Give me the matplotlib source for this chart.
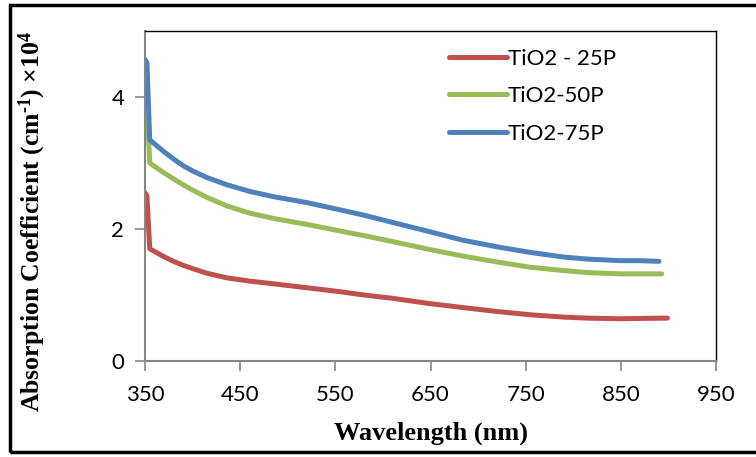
import matplotlib
matplotlib.use("Agg")
import matplotlib.pyplot as plt
from matplotlib.patches import Rectangle

wl_25 = [350, 352, 355, 360, 370, 380, 390, 400, 415, 436, 460, 485, 520, 555, 580, 610, 649, 684, 720, 755, 790, 814, 850, 870, 899]
ac_25 = [2.55, 2.50, 1.70, 1.66, 1.58, 1.51, 1.45, 1.40, 1.33, 1.26, 1.21, 1.17, 1.11, 1.05, 1.00, 0.95, 0.87, 0.81, 0.75, 0.70, 0.665, 0.65, 0.64, 0.645, 0.65]

wl_50 = [350, 352, 355, 360, 370, 380, 390, 400, 415, 436, 460, 485, 520, 555, 580, 610, 649, 684, 720, 755, 790, 814, 850, 870, 893]
ac_50 = [4.19, 3.90, 3.00, 2.95, 2.85, 2.76, 2.67, 2.59, 2.48, 2.35, 2.24, 2.16, 2.07, 1.97, 1.90, 1.81, 1.69, 1.59, 1.50, 1.42, 1.37, 1.34, 1.32, 1.32, 1.32]

wl_75 = [350, 352, 355, 360, 370, 380, 390, 400, 415, 436, 460, 485, 520, 555, 580, 610, 649, 684, 720, 755, 790, 814, 850, 870, 890]
ac_75 = [4.57, 4.52, 3.35, 3.29, 3.17, 3.06, 2.96, 2.88, 2.78, 2.67, 2.57, 2.49, 2.40, 2.29, 2.21, 2.10, 1.96, 1.83, 1.73, 1.645, 1.575, 1.545, 1.52, 1.52, 1.51]

labels = ["TiO2 - 25P", "TiO2-50P", "TiO2-75P"]
colors = ["#C0504D", "#9BBB59", "#4F81BD"]
x_ticks = [350, 450, 550, 650, 750, 850, 950]
y_ticks = [0, 2, 4]

plt.rcParams["mathtext.fontset"] = "custom"
plt.rcParams["mathtext.rm"] = "Liberation Serif:bold"
plt.rcParams["mathtext.bf"] = "Liberation Serif:bold"
plt.rcParams["mathtext.it"] = "Liberation Serif:bold"

fig = plt.figure(figsize=(7.56, 4.57), dpi=100)
W, H = 756, 457
ax = fig.add_axes([145 / W, 1 - 361 / H, (716 - 145) / W, (361 - 31) / H])

for wl, ac, lab, c in zip([wl_25, wl_50, wl_75], [ac_25, ac_50, ac_75], labels, colors):
    ax.plot(wl, ac, color=c, lw=3.6, label=lab, solid_capstyle="round", solid_joinstyle="round")

ax.set_xlim(350, 950)
ax.set_ylim(0, 5)
ax.set_xticks(x_ticks)
ax.set_yticks(y_ticks)
tick_font = "Lato"
ax.tick_params(axis="both", direction="out", length=7, width=1.2, color="#868686",
               labelsize=16)
ax.tick_params(axis="x", pad=10)
ax.tick_params(axis="y", pad=8)
for lab in ax.get_xticklabels() + ax.get_yticklabels():
    lab.set_fontfamily(tick_font)

for s in ["left", "bottom"]:
    ax.spines[s].set_color("#868686")
    ax.spines[s].set_linewidth(1.5)
for s in ["top", "right"]:
    ax.spines[s].set_color("black")
    ax.spines[s].set_linewidth(1.0)

ax.set_xlabel("Wavelength (nm)", fontfamily="Liberation Serif", fontweight="bold", fontsize=19)
ax.set_ylabel(r"Absorption Coefficient (cm$^{\text{-}1}$) $\times$10$^{4}$",
              fontfamily="Liberation Serif", fontweight="bold", fontsize=18.5)
ax.yaxis.set_label_coords(-(145 - 48) / (716 - 145), (361 - 221) / (361 - 31))
ax.xaxis.set_label_coords(0.5, -(422 - 361) / (361 - 31))

leg = ax.legend(loc="upper left", bbox_to_anchor=((440 - 145) / (716 - 145), 1 - (40 - 31) / (361 - 31)),
                frameon=False, prop={"family": tick_font, "size": 16}, handlelength=2.6,
                handletextpad=0.05, labelspacing=0.78, borderaxespad=0)

fig.patches.append(Rectangle((10 / W, 1 - 452 / H), (800 - 10) / W, (452 - 5) / H,
                             transform=fig.transFigure, fill=False, edgecolor="black", lw=2.5,
                             clip_on=False))

fig.savefig("out.png", dpi=100)
